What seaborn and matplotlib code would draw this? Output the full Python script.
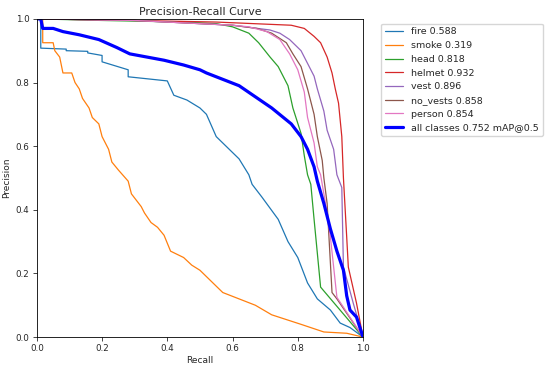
import matplotlib
matplotlib.use("Agg")
import matplotlib.pyplot as plt
from matplotlib.lines import Line2D
import seaborn as sns
import numpy as np

# PR curves (recall, precision)
fire_r = [0.0, 0.012, 0.012, 0.09, 0.09, 0.156, 0.156, 0.20, 0.20, 0.28, 0.28, 0.40, 0.42, 0.46, 0.50, 0.52, 0.55,
          0.58, 0.62, 0.65, 0.66, 0.69, 0.74, 0.77, 0.80, 0.83, 0.86, 0.90, 0.93, 0.96, 1.0]
fire_p = [1.0, 1.0, 0.908, 0.905, 0.90, 0.898, 0.893, 0.885, 0.865, 0.84, 0.818, 0.805, 0.76, 0.745, 0.72, 0.70, 0.63,
          0.60, 0.56, 0.51, 0.48, 0.44, 0.37, 0.30, 0.25, 0.17, 0.12, 0.085, 0.044, 0.03, 0.0]

smoke_r = [0.0, 0.018, 0.018, 0.05, 0.055, 0.07, 0.08, 0.107, 0.117, 0.13, 0.14, 0.16, 0.17, 0.19, 0.20, 0.22, 0.23,
           0.25, 0.28, 0.29, 0.32, 0.33, 0.35, 0.37, 0.39, 0.41, 0.45, 0.475, 0.50, 0.54, 0.57, 0.62, 0.67, 0.72,
           0.81, 0.88, 0.95, 1.0]
smoke_p = [1.0, 1.0, 0.925, 0.925, 0.90, 0.88, 0.83, 0.83, 0.80, 0.78, 0.75, 0.72, 0.69, 0.67, 0.63, 0.59, 0.55,
           0.525, 0.49, 0.45, 0.41, 0.39, 0.36, 0.345, 0.32, 0.27, 0.25, 0.226, 0.21, 0.17, 0.14, 0.12, 0.10, 0.07,
           0.04, 0.016, 0.012, 0.0]

head_r = [0.0, 0.2, 0.45, 0.55, 0.60, 0.65, 0.68, 0.715, 0.74, 0.77, 0.785, 0.81, 0.82, 0.83, 0.84, 0.85, 0.87, 1.0]
head_p = [1.0, 0.995, 0.99, 0.985, 0.975, 0.955, 0.925, 0.88, 0.85, 0.79, 0.72, 0.64, 0.57, 0.51, 0.48, 0.37, 0.157, 0.0]

helmet_r = [0.0, 0.3, 0.55, 0.78, 0.82, 0.85, 0.87, 0.89, 0.905, 0.915, 0.925, 0.935, 0.94, 0.95, 0.955, 0.98, 1.0]
helmet_p = [1.0, 0.995, 0.99, 0.98, 0.97, 0.945, 0.925, 0.88, 0.83, 0.78, 0.735, 0.63, 0.50, 0.315, 0.22, 0.107, 0.0]

vest_r = [0.0, 0.3, 0.6, 0.715, 0.745, 0.775, 0.81, 0.83, 0.85, 0.86, 0.88, 0.89, 0.91, 0.92, 0.935, 0.94, 0.97, 1.0]
vest_p = [1.0, 0.995, 0.98, 0.965, 0.955, 0.935, 0.90, 0.86, 0.82, 0.78, 0.71, 0.65, 0.59, 0.51, 0.47, 0.22, 0.107, 0.0]

novest_r = [0.0, 0.3, 0.6, 0.675, 0.72, 0.765, 0.785, 0.81, 0.83, 0.85, 0.86, 0.875, 0.88, 0.89, 0.905, 0.92, 1.0]
novest_p = [1.0, 0.995, 0.98, 0.97, 0.955, 0.925, 0.89, 0.85, 0.78, 0.70, 0.63, 0.555, 0.50, 0.42, 0.14, 0.12, 0.0]

person_r = [0.0, 0.3, 0.6, 0.65, 0.705, 0.745, 0.775, 0.80, 0.82, 0.83, 0.85, 0.86, 0.87, 0.885, 0.90, 0.92, 1.0]
person_p = [1.0, 0.995, 0.98, 0.975, 0.96, 0.935, 0.89, 0.84, 0.77, 0.69, 0.61, 0.535, 0.51, 0.42, 0.315, 0.125, 0.0]

all_r = [0.0, 0.012, 0.018, 0.05, 0.08, 0.13, 0.19, 0.245, 0.285, 0.39, 0.45, 0.50, 0.52, 0.57, 0.62, 0.67, 0.72,
         0.78, 0.81, 0.83, 0.85, 0.86, 0.88, 0.90, 0.92, 0.94, 0.95, 0.96, 0.98, 1.0]
all_p = [1.0, 1.0, 0.97, 0.97, 0.96, 0.95, 0.935, 0.91, 0.89, 0.87, 0.855, 0.84, 0.83, 0.81, 0.79, 0.755, 0.72,
         0.67, 0.63, 0.59, 0.535, 0.49, 0.42, 0.34, 0.27, 0.21, 0.13, 0.085, 0.063, 0.0]

names = ["fire", "smoke", "head", "helmet", "vest", "no_vests", "person"]
ap = [0.588, 0.319, 0.818, 0.932, 0.896, 0.858, 0.854]
curves = [(fire_r, fire_p), (smoke_r, smoke_p), (head_r, head_p), (helmet_r, helmet_p),
          (vest_r, vest_p), (novest_r, novest_p), (person_r, person_p)]
map50 = 0.752

sns.set_style("ticks")
plt.rcParams["font.family"] = ["DejaVu Sans"]

fig = plt.figure(figsize=(5.5, 3.7), dpi=100)
ax = fig.add_axes([0.067, 0.089, 0.593, 0.86])
colors = sns.color_palette("tab10")

handles, labels = [], []
for i, (r, p) in enumerate(curves):
    sns.lineplot(x=r, y=p, ax=ax, sort=False, estimator=None, color=colors[i], linewidth=0.9)
    handles.append(Line2D([], [], color=colors[i], linewidth=0.9))
    labels.append(f"{names[i]} {ap[i]:.3f}")
sns.lineplot(x=all_r, y=all_p, ax=ax, sort=False, estimator=None, color="blue", linewidth=2.3)
handles.append(Line2D([], [], color="blue", linewidth=2.3))
labels.append(f"all classes {map50:.3f} mAP@0.5")

ax.set_xlim(0, 1)
ax.set_ylim(0, 1)
ax.set_xlabel("Recall", fontsize=6.5, labelpad=2)
ax.set_ylabel("Precision", fontsize=6.5, labelpad=3)
ax.set_title("Precision-Recall Curve", fontsize=7.9, pad=3)
ax.tick_params(labelsize=6.3, length=2.8, width=0.6, pad=2.5)
for s in ax.spines.values():
    s.set_linewidth(0.6)
    s.set_color("black")

ax.legend(handles, labels, loc="upper left", bbox_to_anchor=(1.04, 1.0),
          fontsize=6.8, frameon=True, borderaxespad=0.5, labelspacing=0.5)

fig.savefig("out.png", dpi=100)
